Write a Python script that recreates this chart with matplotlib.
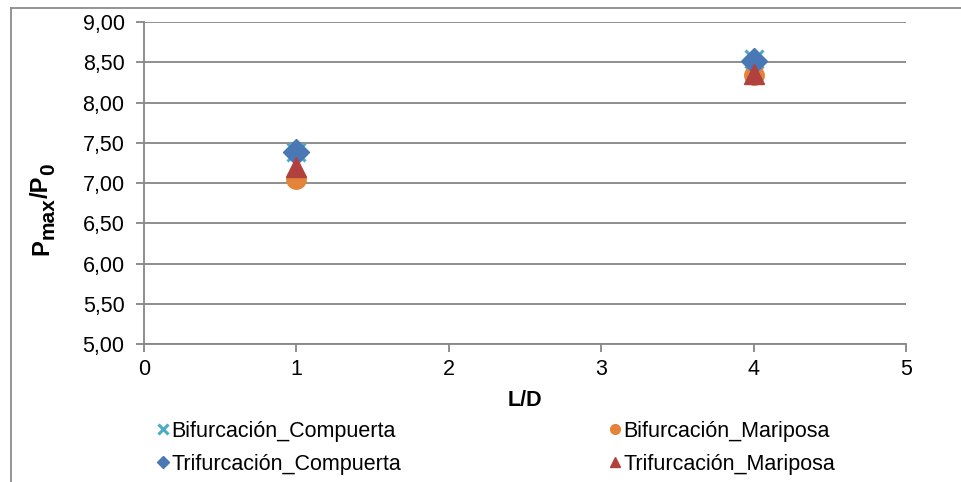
import matplotlib
matplotlib.use("Agg")
import matplotlib.pyplot as plt
from matplotlib.lines import Line2D
from matplotlib.ticker import FuncFormatter, MultipleLocator

plt.rcParams["font.family"] = ["Liberation Sans", "DejaVu Sans"]

# L/D ratios and peak pressure ratios per configuration
ld = [1, 4]
bif_compuerta = [7.39, 8.54]
bif_mariposa = [7.05, 8.34]
tri_compuerta = [7.38, 8.52]
tri_mariposa = [7.20, 8.36]

series_names = ["Bifurcación_Compuerta", "Bifurcación_Mariposa",
                "Trifurcación_Compuerta", "Trifurcación_Mariposa"]

# y-axis title pieces: (text, is_subscript)
ytitle_parts = [("P", False), ("max", True), ("/P", False), ("0", True)]

FS = 15.5
W, H = 961, 482

fig = plt.figure(figsize=(W / 100, H / 100), dpi=100)
ax = fig.add_axes([144 / W, 1 - 344 / H, (906 - 144) / W, (344 - 22) / H])

grid_c = "#868686"
h1, = ax.plot(ld, bif_compuerta, linestyle="none", marker="x", color="#4BACC6",
              markersize=13, markeredgewidth=2.2, label=series_names[0])
h2, = ax.plot(ld, bif_mariposa, linestyle="none", marker="o", color="#E3843A",
              markersize=14, label=series_names[1])
h3, = ax.plot(ld, tri_compuerta, linestyle="none", marker="D", color="#4A78B5",
              markersize=13, label=series_names[2])
h4, = ax.plot(ld, tri_mariposa, linestyle="none", marker="^", color="#B0413E",
              markersize=15, label=series_names[3])

ax.set_xlim(0, 5)
ax.set_ylim(5, 9)
ax.xaxis.set_major_locator(MultipleLocator(1))
ax.yaxis.set_major_locator(MultipleLocator(0.5))
ax.yaxis.set_major_formatter(FuncFormatter(lambda v, p: f"{v:.2f}".replace(".", ",")))
ax.grid(axis="y", color=grid_c, linewidth=1.3)
ax.set_axisbelow(True)
for s in ["top", "right"]:
    ax.spines[s].set_visible(False)
for s in ["left", "bottom"]:
    ax.spines[s].set_color(grid_c)
    ax.spines[s].set_linewidth(1.3)
ax.tick_params(axis="both", colors=grid_c, labelcolor="black", labelsize=FS,
               length=6, width=1.3)
ax.tick_params(axis="y", pad=8)
ax.tick_params(axis="x", pad=5)

ax.set_xlabel("L/D", fontsize=FS, fontweight="bold")
ax.xaxis.set_label_coords(0.5, -0.142)

# rotated y-axis title built from pieces so subscripts sit lower
renderer = fig.canvas.get_renderer()
base_x, y_px = 48, H - 255
for txt, sub in ytitle_parts:
    t = fig.text((base_x + (6 if sub else 0)) / W, y_px / H, txt,
                 rotation=90, rotation_mode="anchor", ha="left", va="baseline",
                 fontsize=15 if sub else 17, fontweight="bold")
    y_px += t.get_window_extent(renderer).height

leg = ax.legend(handles=[h1, h3, h2, h4], ncol=2, loc="upper left",
                bbox_to_anchor=(-0.011, -0.178), frameon=False, fontsize=FS,
                markerscale=0.5, handlelength=0.7, handletextpad=0.05,
                columnspacing=9.6, labelspacing=0.55)

# outer chart border
border = dict(color="#8C8C8C", linewidth=1.3, transform=fig.transFigure)
fig.add_artist(Line2D([11 / W, 1], [1 - 8 / H, 1 - 8 / H], **border))
fig.add_artist(Line2D([11 / W, 11 / W], [0, 1 - 8 / H], **border))

fig.savefig("out.png", dpi=100)
